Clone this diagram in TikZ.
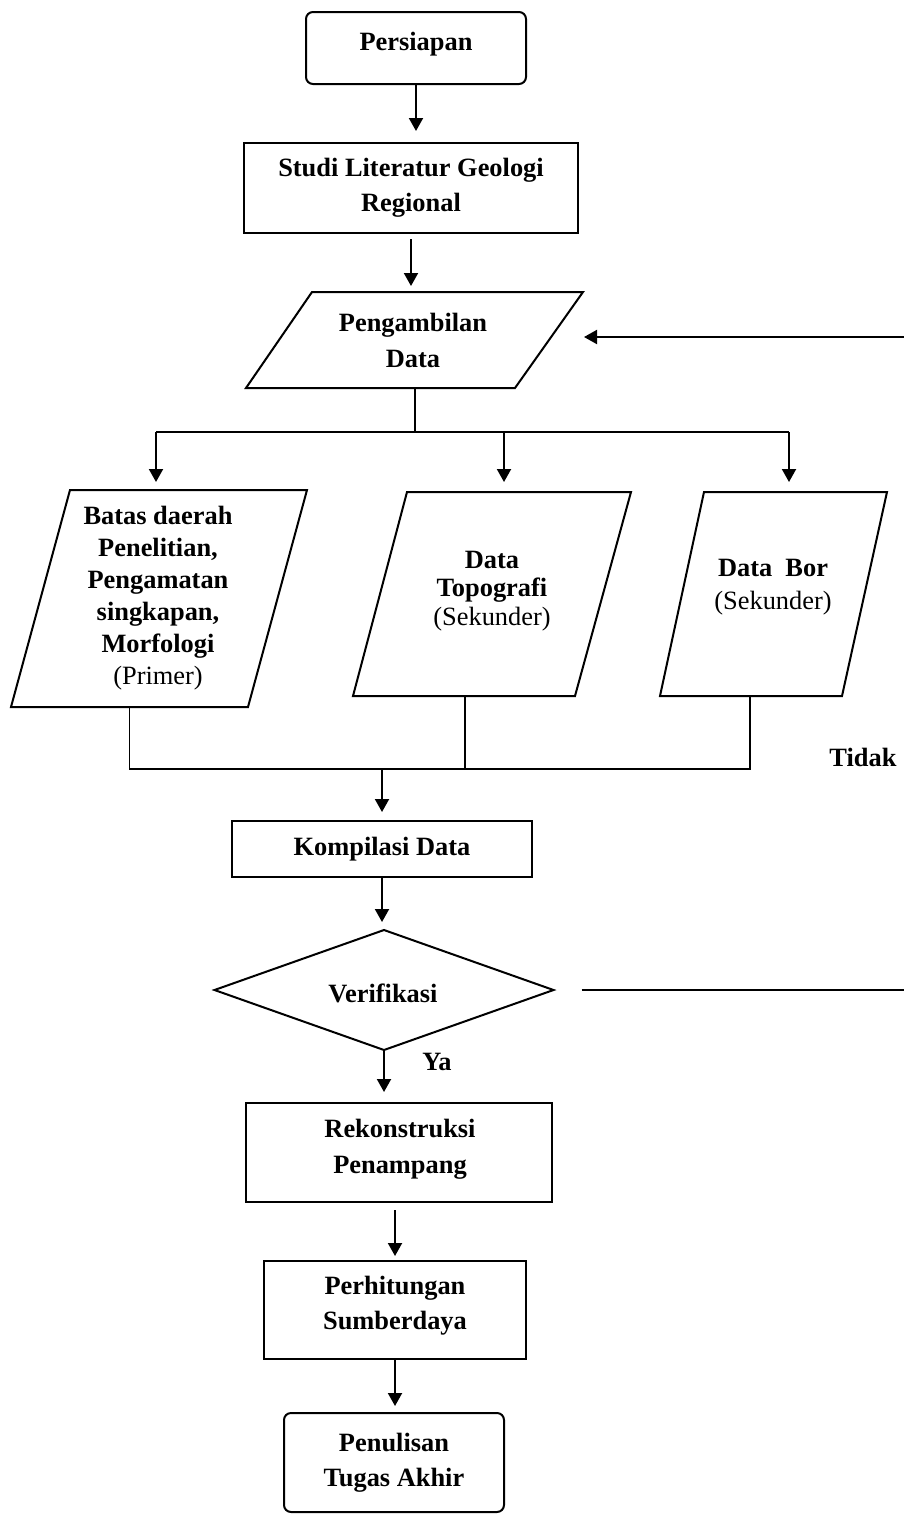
\documentclass[tikz,border=0pt]{standalone}
\usepackage{fontspec}
\setmainfont{Liberation Serif}
\usetikzlibrary{arrows.meta}
\begin{document}
\begin{tikzpicture}[x=0.5pt,y=-0.5pt, line width=1pt,
  box/.style={draw, rectangle, inner sep=0pt},
  rbox/.style={draw, rectangle, rounded corners=3.5pt, inner sep=0pt},
  area/.style={rectangle, inner sep=0pt},
  txt/.style={align=center, font=\fontsize{13.2}{17.5}\selectfont\bfseries, inner sep=0pt},
  arr/.style={-{Triangle[length=6.5pt,width=7pt]}},
  ln/.style={line width=0.8pt}]
\useasboundingbox (0,0) rectangle (904,1515);

% boxes
\node[rbox, minimum width=110pt, minimum height=36pt] (pers) at (416,48) {};
\node[txt] (pers-t) at (416,44) {Persiapan};

\node[box, minimum width=167pt, minimum height=45pt] (studi) at (411,188) {};
\node[txt] (studi-t) at (411,188) {Studi Literatur Geologi\\Regional};

\node[area, minimum width=167.5pt, minimum height=47pt] (peng) at (414.5,340) {};
\draw ([xshift=33pt]peng.north west) -- (peng.north east) -- ([xshift=-34pt]peng.south east) -- (peng.south west) -- cycle;
\node[txt, font=\fontsize{13.2}{18}\selectfont\bfseries] (peng-t) at (413,340) {Pengambilan\\Data};

\node[area, minimum width=147pt, minimum height=107.5pt] (para1) at (159,598.5) {};
\draw ([xshift=29.5pt]para1.north west) -- (para1.north east) -- ([xshift=-29.5pt]para1.south east) -- (para1.south west) -- cycle;
\node[txt, font=\fontsize{13.2}{16}\selectfont\bfseries] (para1-t) at (158,598) {Batas daerah\\Penelitian,\\Pengamatan\\singkapan,\\Morfologi\\{\mdseries (Primer)}};

\node[area, minimum width=138pt, minimum height=101pt] (para2) at (492,594) {};
\draw ([xshift=27pt]para2.north west) -- (para2.north east) -- ([xshift=-28pt]para2.south east) -- (para2.south west) -- cycle;
\node[txt, font=\fontsize{13.2}{14.2}\selectfont\bfseries] (para2-t) at (492,591) {Data\\Topografi\\{\mdseries (Sekunder)}};

\node[area, minimum width=112.5pt, minimum height=101pt] (para3) at (773.5,594) {};
\draw ([xshift=22pt]para3.north west) -- (para3.north east) -- ([xshift=-22.5pt]para3.south east) -- (para3.south west) -- cycle;
\node[txt, font=\fontsize{13.2}{16.5}\selectfont\bfseries] (para3-t) at (773,587) {Data\ \ Bor\\{\mdseries (Sekunder)}};

\node[box, minimum width=150pt, minimum height=28pt] (komp) at (382,849) {};
\node[txt] (komp-t) at (382,849) {Kompilasi Data};

\node[area, minimum width=168.5pt, minimum height=59pt] (ver) at (384,990) {};
\draw (ver.north) -- (ver.east) -- (ver.south) -- (ver.west) -- cycle;
\node[txt] (ver-t) at (383,993) {Verifikasi};

\node[box, minimum width=153pt, minimum height=49.5pt] (rek) at (399,1152.5) {};
\node[txt, font=\fontsize{13.2}{18}\selectfont\bfseries] (rek-t) at (400,1149) {Rekonstruksi\\Penampang};

\node[box, minimum width=131pt, minimum height=49pt] (perh) at (395,1310) {};
\node[txt] (perh-t) at (395,1306) {Perhitungan\\Sumberdaya};

\node[rbox, minimum width=110pt, minimum height=49.5pt] (pen) at (394,1462.5) {};
\node[txt] (pen-t) at (394,1462.5) {Penulisan\\Tugas Akhir};

\node[txt] (tidak) at (863,757) {Tidak};
\node[txt] (ya) at (437,1062) {Ya};

% coordinates
\coordinate (br) at (414.5,432);
\coordinate (b1) at (156,432);
\coordinate (b2) at (504,432);
\coordinate (b3) at (789,432);
\coordinate (p1b) at (129.5,706);
\coordinate (p2b) at (465,695);
\coordinate (p3b) at (750,695);
\coordinate (m1) at (129.5,769);
\coordinate (m2) at (465,769);
\coordinate (m3) at (750,769);
\coordinate (mk) at (382,769);
\coordinate (ret) at (904,337);
\coordinate (nout) at (904,990);

% connectors
\draw[arr, shorten >=5.5pt] (pers.south) -- (pers.south |- studi.north);
\draw[arr, shorten <=2.5pt, shorten >=3pt] (studi.south) -- (studi.south |- peng.north);
\draw (peng.south) -- (br);
\draw (b1) -- (b3);
\draw[arr, shorten >=4pt] (b1) -- (b1 |- para1.north);
\draw[arr, shorten >=5pt] (b2) -- (b2 |- para2.north);
\draw[arr, shorten >=5pt] (b3) -- (b3 |- para3.north);
\draw[ln] (p1b) -- (m1) -- (m3) -- (p3b);
\draw[ln] (p2b) -- (m2);
\draw[arr, shorten >=4pt] (mk) -- (mk |- komp.north);
\draw[arr, shorten >=4pt] (komp.south) -- (komp.south |- ver.north);
\draw[arr, shorten >=5pt] (ver.south) -- (ver.south |- rek.north);
\draw[arr, shorten <=3.5pt, shorten >=2pt] (perh.north |- rek.south) -- (perh.north);
\draw[arr, shorten >=3pt] (perh.south) -- (perh.south |- pen.north);
\draw[arr, shorten >=0.5pt] (ret) -- (ret -| peng.east);
\draw[shorten <=14pt] (ver.east) -- (nout);
\end{tikzpicture}
\end{document}
